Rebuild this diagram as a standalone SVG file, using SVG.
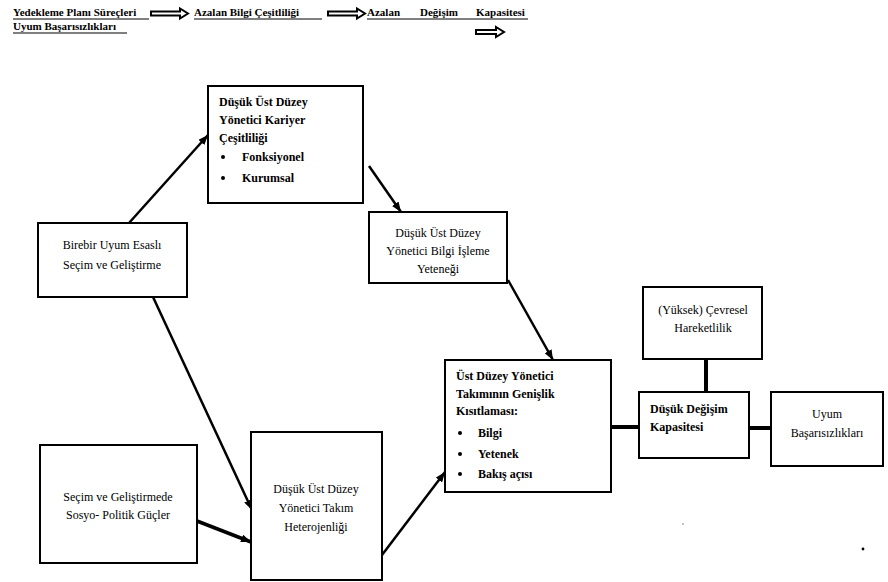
<svg xmlns="http://www.w3.org/2000/svg" width="888" height="582" viewBox="0 0 888 582" font-family="'Liberation Serif', 'DejaVu Serif', serif">
<defs>
<style>
text{font-family:"Liberation Serif","Tinos","DejaVu Serif",serif;font-size:12px;fill:#000}
.b{font-weight:bold}
.h{font-size:11px;font-weight:bold}
.c{text-anchor:middle}
.box{fill:#fff;stroke:#000;stroke-width:2}
.con{stroke:#000;stroke-width:2.5;fill:none}
.thick{stroke:#000;stroke-width:4;fill:none}
.ul{stroke:#000;stroke-width:1}
.ba{fill:#fff;stroke:#000;stroke-width:2}
</style>
<marker id="ah" viewBox="0 0 10 8" refX="10" refY="4" markerWidth="10" markerHeight="8" markerUnits="userSpaceOnUse" orient="auto">
<path d="M0,0 L10,4 L0,8 Z" fill="#000"/>
</marker>
</defs>
<rect width="888" height="582" fill="#fff"/>

<g id="header">
<text class="h" x="13" y="16">Yedekleme Planı Süreçleri</text>
<line class="ul" x1="13" y1="19" x2="149" y2="19"/>
<path class="ba" d="M151,11.5 H180 V8.5 L188,13.5 L180,18.5 V15.5 H151 Z"/>
<text class="h" x="194" y="16">Azalan Bilgi Çeşitliliği</text>
<line class="ul" x1="194" y1="19" x2="322" y2="19"/>
<path class="ba" d="M328,11.5 H357 V8.5 L365,13.5 L357,18.5 V15.5 H328 Z"/>
<text class="h" x="367" y="16">Azalan</text>
<text class="h" x="420" y="16">Değişim</text>
<text class="h" x="476" y="16">Kapasitesi</text>
<line class="ul" x1="367" y1="19" x2="528" y2="19"/>
<text class="h" x="13" y="30">Uyum Başarısızlıkları</text>
<line class="ul" x1="13" y1="33" x2="127" y2="33"/>
<path class="ba" d="M476,30 H496 V27 L504,32 L496,37 V34 H476 Z"/>
</g>

<g id="connectors">
<line class="con" x1="129" y1="223" x2="208" y2="135" marker-end="url(#ah)"/>
<line class="con" x1="369" y1="166" x2="401" y2="212" marker-end="url(#ah)"/>
<line class="con" x1="508" y1="280" x2="553" y2="360" marker-end="url(#ah)"/>
<line class="con" x1="153" y1="297" x2="252" y2="510" marker-end="url(#ah)"/>
<line class="con" x1="197" y1="521" x2="251" y2="542" marker-end="url(#ah)" style="stroke-width:3.5"/>
<line class="con" x1="382" y1="555" x2="445" y2="472" marker-end="url(#ah)"/>
<line class="thick" x1="611" y1="427" x2="639" y2="427"/>
<line class="thick" x1="749" y1="428" x2="771" y2="428"/>
<line class="thick" x1="706" y1="359" x2="706" y2="392"/>
</g>

<g id="kariyer">
<rect class="box" x="208" y="86" width="155" height="117"/>
<text class="b" x="219" y="106">Düşük Üst Düzey</text>
<text class="b" x="219" y="124">Yönetici Kariyer</text>
<text class="b" x="219" y="142">Çeşitliliği</text>
<circle cx="223" cy="157" r="2"/>
<text class="b" x="242" y="161">Fonksiyonel</text>
<circle cx="223" cy="178" r="2"/>
<text class="b" x="242" y="182">Kurumsal</text>
</g>

<g id="birebir">
<rect class="box" x="38" y="223" width="149" height="74"/>
<text class="c" x="112" y="249">Birebir Uyum Esaslı</text>
<text class="c" x="112" y="269">Seçim ve Geliştirme</text>
</g>

<g id="bilgiisleme">
<rect class="box" x="369" y="212" width="138" height="71"/>
<text class="c" x="438" y="237">Düşük Üst Düzey</text>
<text class="c" x="438" y="255">Yönetici Bilgi İşleme</text>
<text class="c" x="438" y="273">Yeteneği</text>
</g>

<g id="genislik">
<rect class="box" x="445" y="360" width="166" height="132"/>
<text class="b" x="456" y="380">Üst Düzey Yönetici</text>
<text class="b" x="456" y="398">Takımının Genişlik</text>
<text class="b" x="456" y="415">Kısıtlaması:</text>
<circle cx="460" cy="433" r="2"/>
<text class="b" x="478" y="437">Bilgi</text>
<circle cx="460" cy="454" r="2"/>
<text class="b" x="478" y="458">Yetenek</text>
<circle cx="460" cy="474" r="2"/>
<text class="b" x="478" y="478">Bakış açısı</text>
</g>

<g id="cevresel">
<rect class="box" x="643" y="287" width="119" height="72"/>
<text class="c" x="703" y="314">(Yüksek) Çevresel</text>
<text class="c" x="703" y="332">Hareketlilik</text>
</g>

<g id="degisim">
<rect class="box" x="639" y="392" width="110" height="66"/>
<text class="b" x="650" y="413">Düşük Değişim</text>
<text class="b" x="650" y="431">Kapasitesi</text>
</g>

<g id="uyum">
<rect class="box" x="771" y="392" width="112" height="74"/>
<text class="c" x="827" y="418">Uyum</text>
<text class="c" x="827" y="437">Başarısızlıkları</text>
</g>

<g id="sosyopolitik">
<rect class="box" x="40" y="445" width="157" height="118"/>
<text class="c" x="118" y="501">Seçim ve Geliştirmede</text>
<text class="c" x="118" y="519">Sosyo- Politik Güçler</text>
</g>

<g id="heterojenlik">
<rect class="box" x="251" y="432" width="131" height="148"/>
<text class="c" x="316" y="493">Düşük Üst Düzey</text>
<text class="c" x="316" y="512">Yönetici Takım</text>
<text class="c" x="316" y="531">Heterojenliği</text>
</g>

<circle cx="683" cy="524" r="0.8" fill="#777"/>
<circle cx="863" cy="549" r="1.4" fill="#000"/>
</svg>
